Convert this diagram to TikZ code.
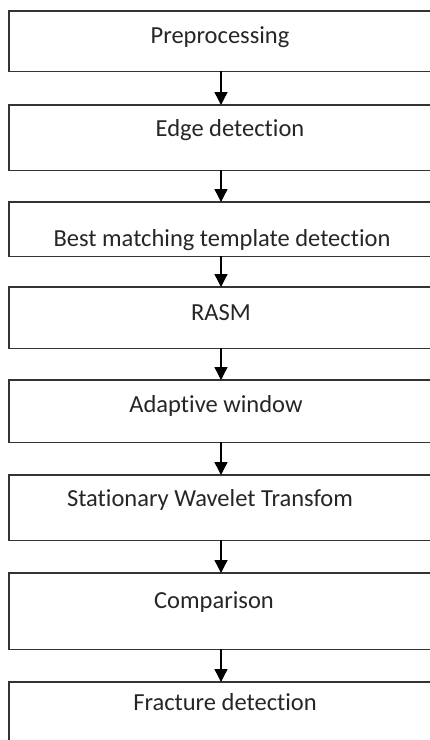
\documentclass[tikz,border=0pt]{standalone}
\usepackage{fontspec}
\setmainfont{Carlito}[Ligatures=NoCommon]
\usetikzlibrary{arrows.meta}
\begin{document}
\begin{tikzpicture}[x=1pt,y=1pt,
  box/.style={draw=none, inner sep=0pt, anchor=north west, minimum width=421pt},
  edge/.style={draw=black!80, line width=1.4pt, line cap=butt},
  lbl/.style={font=\fontsize{24.5}{28}\selectfont, text=black!85, inner sep=0pt},
  flow/.style={draw=black, line width=1.4pt, -{Triangle[length=13pt,width=13pt]}}]
\useasboundingbox (0,0) rectangle (430,-740);
\node[box, minimum height=60pt] (b1) at (9,-11) {};
\node[box, minimum height=65pt] (b2) at (9,-105) {};
\node[box, minimum height=54pt] (b3) at (9,-202) {};
\node[box, minimum height=61pt] (b4) at (9,-287) {};
\node[box, minimum height=62pt] (b5) at (9,-380) {};
\node[box, minimum height=65pt] (b6) at (9,-475) {};
\node[box, minimum height=76pt] (b7) at (9,-573) {};
\node[box, minimum height=58pt] (b8) at (9,-682) {};
\foreach \b in {b1,b2,b3,b4,b5,b6,b7}
  \draw[edge] (\b.north east) -- (\b.north west) -- (\b.south west) -- (\b.south east);
\draw[edge] (b8.north east) -- (b8.north west) -- (b8.south west);
\node[lbl] (t1) at (220,-37) {Preprocessing};
\node[lbl] (t2) at (230,-130) {Edge detection};
\node[lbl] (t3) at (222,-240) {Best matching template detection};
\node[lbl] (t4) at (221,-313) {RASM};
\node[lbl] (t5) at (216,-406) {Adaptive window};
\node[lbl] (t6) at (210,-500) {Stationary Wavelet Transfom};
\node[lbl] (t7) at (214,-602) {Comparison};
\node[lbl] (t8) at (225,-702) {Fracture detection};
\coordinate (ax) at (221,0);
\draw[flow] (b1.south -| ax) -- (b2.north -| ax);
\draw[flow] (b2.south -| ax) -- (b3.north -| ax);
\draw[flow] (b3.south -| ax) -- (b4.north -| ax);
\draw[flow] (b4.south -| ax) -- (b5.north -| ax);
\draw[flow] (b5.south -| ax) -- (b6.north -| ax);
\draw[flow] (b6.south -| ax) -- (b7.north -| ax);
\draw[flow] (b7.south -| ax) -- (b8.north -| ax);
\end{tikzpicture}
\end{document}
